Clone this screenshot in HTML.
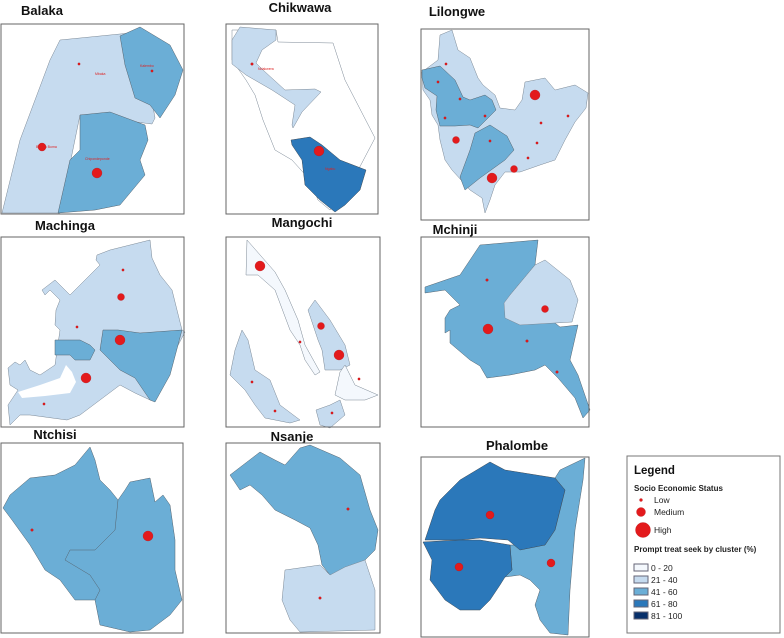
<!DOCTYPE html>
<html><head><meta charset="utf-8"><style>
body{margin:0;background:#fff;}
svg{display:block;font-family:"Liberation Sans",sans-serif;}
.t{font-weight:bold;font-size:13px;fill:#111;text-anchor:middle;}
.box{fill:none;stroke:#666;stroke-width:1;}
.L{fill:#c6dbef;stroke:#7a8794;stroke-width:.5}
.M{fill:#6baed6;stroke:#55636e;stroke-width:.5}
.D{fill:#2b78ba;stroke:#3e4a55;stroke-width:.5}
.W{fill:#f4f8fd;stroke:#7a8794;stroke-width:.5}
.dot{fill:#e31a1c;stroke:#b01015;stroke-width:.3}
.lb{font-size:3.5px;fill:#d22;}
.lg{font-size:8.5px;fill:#222;}
</style></head><body>
<svg width="784" height="638" viewBox="0 0 784 638">
<!-- Balaka -->
<g>
<text class="t" x="42" y="15">Balaka</text>
<polygon class="L" points="2,213 20,140 50,60 60,40 140,32 155,118 152,124 80,115 60,213"/>
<polygon class="M" points="120,36 140,27 170,45 183,70 175,95 160,118 150,105 135,98 125,65"/>
<polygon class="M" points="80,115 110,112 145,125 148,140 140,160 145,175 120,205 95,210 58,213 70,160 80,150"/>
<circle class="dot" cx="79" cy="64" r="1.2"/><circle class="dot" cx="152" cy="71" r="1.2"/>
<circle class="dot" cx="42" cy="147" r="4"/><circle class="dot" cx="97" cy="173" r="5"/>
<text class="lb" x="95" y="75">Mbaka</text><text class="lb" x="140" y="67">Kalembo</text><text class="lb" x="36" y="148">Balaka Boma</text><text class="lb" x="85" y="160">Chipondeponde</text>
<rect class="box" x="1" y="24" width="183" height="190"/>
</g>
<!-- Chikwawa -->
<g>
<text class="t" x="300" y="12">Chikwawa</text>
<polygon fill="#fff" stroke="#7a8794" stroke-width=".5" points="232,30 276,30 278,42 333,43 345,80 375,138 345,195 330,210 318,200 310,180 292,160 275,150 263,120 255,95 246,80 232,60"/>
<polygon class="L" points="232,40 240,27 276,30 276,40 262,50 256,63 263,70 285,90 315,89 321,92 302,112 293,128 292,125 295,105 272,90 246,75 232,64"/>
<polygon class="D" points="291,140 310,137 322,145 340,160 366,170 360,190 345,205 335,212 320,200 305,185 302,160 292,145"/>
<circle class="dot" cx="252" cy="64" r="1.3"/><circle class="dot" cx="319" cy="151" r="5"/>
<text class="lb" x="258" y="70">Ndakwera</text><text class="lb" x="325" y="170">Ngabu</text>
<rect class="box" x="226" y="24" width="152" height="190"/>
</g>
<!-- Lilongwe -->
<g>
<text class="t" x="457" y="16">Lilongwe</text>
<polygon class="L" points="440,35 452,30 458,50 470,58 478,78 483,85 495,95 500,108 515,110 522,100 525,82 545,78 555,90 575,85 588,93 586,108 575,122 565,140 555,160 540,165 520,172 505,172 495,185 490,200 485,213 482,198 470,190 461,180 452,170 445,160 440,140 438,125 432,115 430,100 423,90 422,72 438,60"/>
<polygon class="M" points="422,70 440,66 455,80 463,97 470,100 485,95 492,100 496,110 478,128 470,125 455,126 440,126 436,110 437,96 425,88 422,78"/>
<polygon class="M" points="475,133 490,125 507,136 514,150 505,160 480,178 465,190 460,177 470,150"/>
<circle class="dot" cx="535" cy="95" r="5"/><circle class="dot" cx="456" cy="140" r="3.5"/>
<circle class="dot" cx="492" cy="178" r="5"/><circle class="dot" cx="514" cy="169" r="3.5"/>
<circle class="dot" cx="446" cy="64" r="1.2"/><circle class="dot" cx="438" cy="82" r="1.2"/><circle class="dot" cx="460" cy="99" r="1.2"/><circle class="dot" cx="485" cy="116" r="1.2"/><circle class="dot" cx="445" cy="118" r="1.2"/><circle class="dot" cx="490" cy="141" r="1.2"/><circle class="dot" cx="568" cy="116" r="1.2"/><circle class="dot" cx="541" cy="123" r="1.2"/><circle class="dot" cx="537" cy="143" r="1.2"/><circle class="dot" cx="528" cy="158" r="1.2"/>
<rect class="box" x="421" y="29" width="168" height="191"/>
</g>
<!-- Machinga -->
<g>
<text class="t" x="65" y="230">Machinga</text>
<polygon class="L" points="8,368 15,362 20,365 25,360 30,370 40,375 55,365 60,330 55,325 56,310 60,300 50,290 45,295 42,290 55,280 70,295 85,280 90,275 100,265 96,260 97,255 110,250 150,240 152,258 160,275 172,290 182,330 185,332 165,370 155,400 150,400 135,393 120,385 80,415 67,420 30,415 20,415 10,425 8,405 18,390 10,385"/>
<polygon class="M" points="103,330 118,330 140,333 182,330 170,375 155,402 150,400 135,378 120,370 100,350"/>
<polygon class="M" points="55,340 70,340 80,340 90,345 95,350 90,360 75,360 70,355 55,355"/>
<polygon fill="#fff" points="66,365 60,378 40,385 18,392 22,398 45,396 70,393 76,382 72,372"/>
<circle class="dot" cx="123" cy="270" r="1.2"/><circle class="dot" cx="121" cy="297" r="3.5"/><circle class="dot" cx="77" cy="327" r="1.2"/>
<circle class="dot" cx="120" cy="340" r="5"/><circle class="dot" cx="86" cy="378" r="5"/><circle class="dot" cx="44" cy="404" r="1.2"/>
<rect class="box" x="1" y="237" width="183" height="190"/>
</g>
<!-- Mangochi -->
<g>
<text class="t" x="302" y="227">Mangochi</text>
<polygon class="W" points="247,240 275,272 285,290 298,320 305,345 320,372 315,375 305,360 300,345 290,330 275,290 258,275 246,275"/>
<polygon class="L" points="235,350 242,330 248,340 255,370 270,380 280,405 300,420 290,423 265,418 255,405 245,390 230,375"/>
<polygon class="L" points="308,310 315,300 330,320 345,345 350,365 340,370 325,370 322,350 318,340"/>
<polygon class="W" points="345,365 355,385 378,395 365,400 345,400 335,395 340,372"/>
<polygon class="L" points="316,410 330,405 340,400 345,415 330,428 320,425"/>
<circle class="dot" cx="260" cy="266" r="5"/><circle class="dot" cx="321" cy="326" r="3.5"/><circle class="dot" cx="339" cy="355" r="5"/>
<circle class="dot" cx="359" cy="379" r="1.2"/><circle class="dot" cx="300" cy="342" r="1.2"/><circle class="dot" cx="252" cy="382" r="1.2"/><circle class="dot" cx="275" cy="411" r="1.2"/><circle class="dot" cx="332" cy="413" r="1.2"/>
<rect class="box" x="226" y="237" width="154" height="190"/>
</g>
<!-- Mchinji -->
<g>
<text class="t" x="455" y="234">Mchinji</text>
<polygon class="M" points="425,287 460,275 480,245 538,240 535,265 510,295 505,305 555,323 560,327 578,325 570,360 578,375 590,410 583,418 575,398 558,378 545,365 535,370 510,375 487,378 480,366 470,360 450,343 450,330 445,333 445,318 450,310 460,305 455,300 445,290 425,293"/>
<polygon class="L" points="510,295 535,265 545,260 570,280 578,300 572,322 555,323 520,325 505,318 504,303"/>
<circle class="dot" cx="487" cy="280" r="1.3"/><circle class="dot" cx="488" cy="329" r="5"/><circle class="dot" cx="545" cy="309" r="3.5"/>
<circle class="dot" cx="527" cy="341" r="1.3"/><circle class="dot" cx="557" cy="372" r="1.3"/>
<rect class="box" x="421" y="237" width="168" height="190"/>
</g>
<!-- Ntchisi -->
<g>
<text class="t" x="55" y="439">Ntchisi</text>
<polygon class="M" points="3,508 10,495 30,478 55,475 75,465 90,447 95,460 100,480 110,490 118,500 125,490 130,482 150,478 155,502 163,495 170,505 175,540 175,570 182,600 170,615 150,630 130,632 100,625 95,600 75,600 60,580 45,570 30,545 12,520"/>
<polyline fill="none" stroke="#55636e" stroke-width=".5" points="118,500 115,530 95,550 70,550 65,560 90,575 100,590 95,600"/>
<circle class="dot" cx="32" cy="530" r="1.3"/><circle class="dot" cx="148" cy="536" r="5"/>
<rect class="box" x="1" y="443" width="182" height="190"/>
</g>
<!-- Nsanje -->
<g>
<text class="t" x="292" y="441">Nsanje</text>
<polygon class="M" points="230,475 260,452 275,460 285,465 300,448 310,445 340,458 360,475 370,510 378,530 375,550 365,560 345,570 330,575 322,565 318,545 310,528 295,520 275,510 262,495 250,485 240,490"/>
<polygon class="L" points="285,570 320,565 330,575 345,567 365,560 375,590 375,630 300,632 290,620 282,600"/>
<circle class="dot" cx="348" cy="509" r="1.3"/><circle class="dot" cx="320" cy="598" r="1.3"/>
<rect class="box" x="226" y="443" width="154" height="190"/>
</g>
<!-- Phalombe -->
<g>
<text class="t" x="517" y="450">Phalombe</text>
<polygon class="M" points="555,478 560,470 585,458 583,480 575,530 570,590 568,635 550,633 540,620 535,605 540,590 530,580 520,575 505,577 512,570 510,545 545,545 555,530 565,490"/>
<polygon class="D" points="425,540 435,510 440,500 460,480 490,462 505,470 555,478 565,490 555,530 545,545 520,550 508,540 480,538 460,540"/>
<polygon class="D" points="423,542 460,540 480,540 510,545 512,570 505,577 500,585 490,600 480,610 460,610 445,600 430,580 432,560"/>
<circle class="dot" cx="490" cy="515" r="4"/><circle class="dot" cx="459" cy="567" r="4"/><circle class="dot" cx="551" cy="563" r="4"/>
<rect class="box" x="421" y="457" width="168" height="180"/>
</g>
<!-- Legend -->
<g>
<rect x="627" y="456" width="153" height="177" fill="#fff" stroke="#777" stroke-width="1"/>
<text x="634" y="474" font-size="11.5" font-weight="bold" fill="#111">Legend</text>
<text x="634" y="491" font-size="8" font-weight="bold" fill="#222">Socio Economic Status</text>
<circle class="dot" cx="641" cy="500" r="1.5"/><text class="lg" x="654" y="503">Low</text>
<circle class="dot" cx="641" cy="512" r="4.5"/><text class="lg" x="654" y="515">Medium</text>
<circle class="dot" cx="643" cy="530" r="7.5"/><text class="lg" x="654" y="533">High</text>
<text x="634" y="552" font-size="8" font-weight="bold" fill="#222">Prompt treat seek by cluster (%)</text>
<rect x="634" y="564" width="14" height="7" fill="#f4f8fd" stroke="#667"/><text class="lg" x="651" y="571">0 - 20</text>
<rect x="634" y="576" width="14" height="7" fill="#c6dbef" stroke="#667"/><text class="lg" x="651" y="583">21 - 40</text>
<rect x="634" y="588" width="14" height="7" fill="#6baed6" stroke="#667"/><text class="lg" x="651" y="595">41 - 60</text>
<rect x="634" y="600" width="14" height="7" fill="#2b78ba" stroke="#667"/><text class="lg" x="651" y="607">61 - 80</text>
<rect x="634" y="612" width="14" height="7" fill="#08306b" stroke="#667"/><text class="lg" x="651" y="619">81 - 100</text>
</g>
</svg>
</body></html>
